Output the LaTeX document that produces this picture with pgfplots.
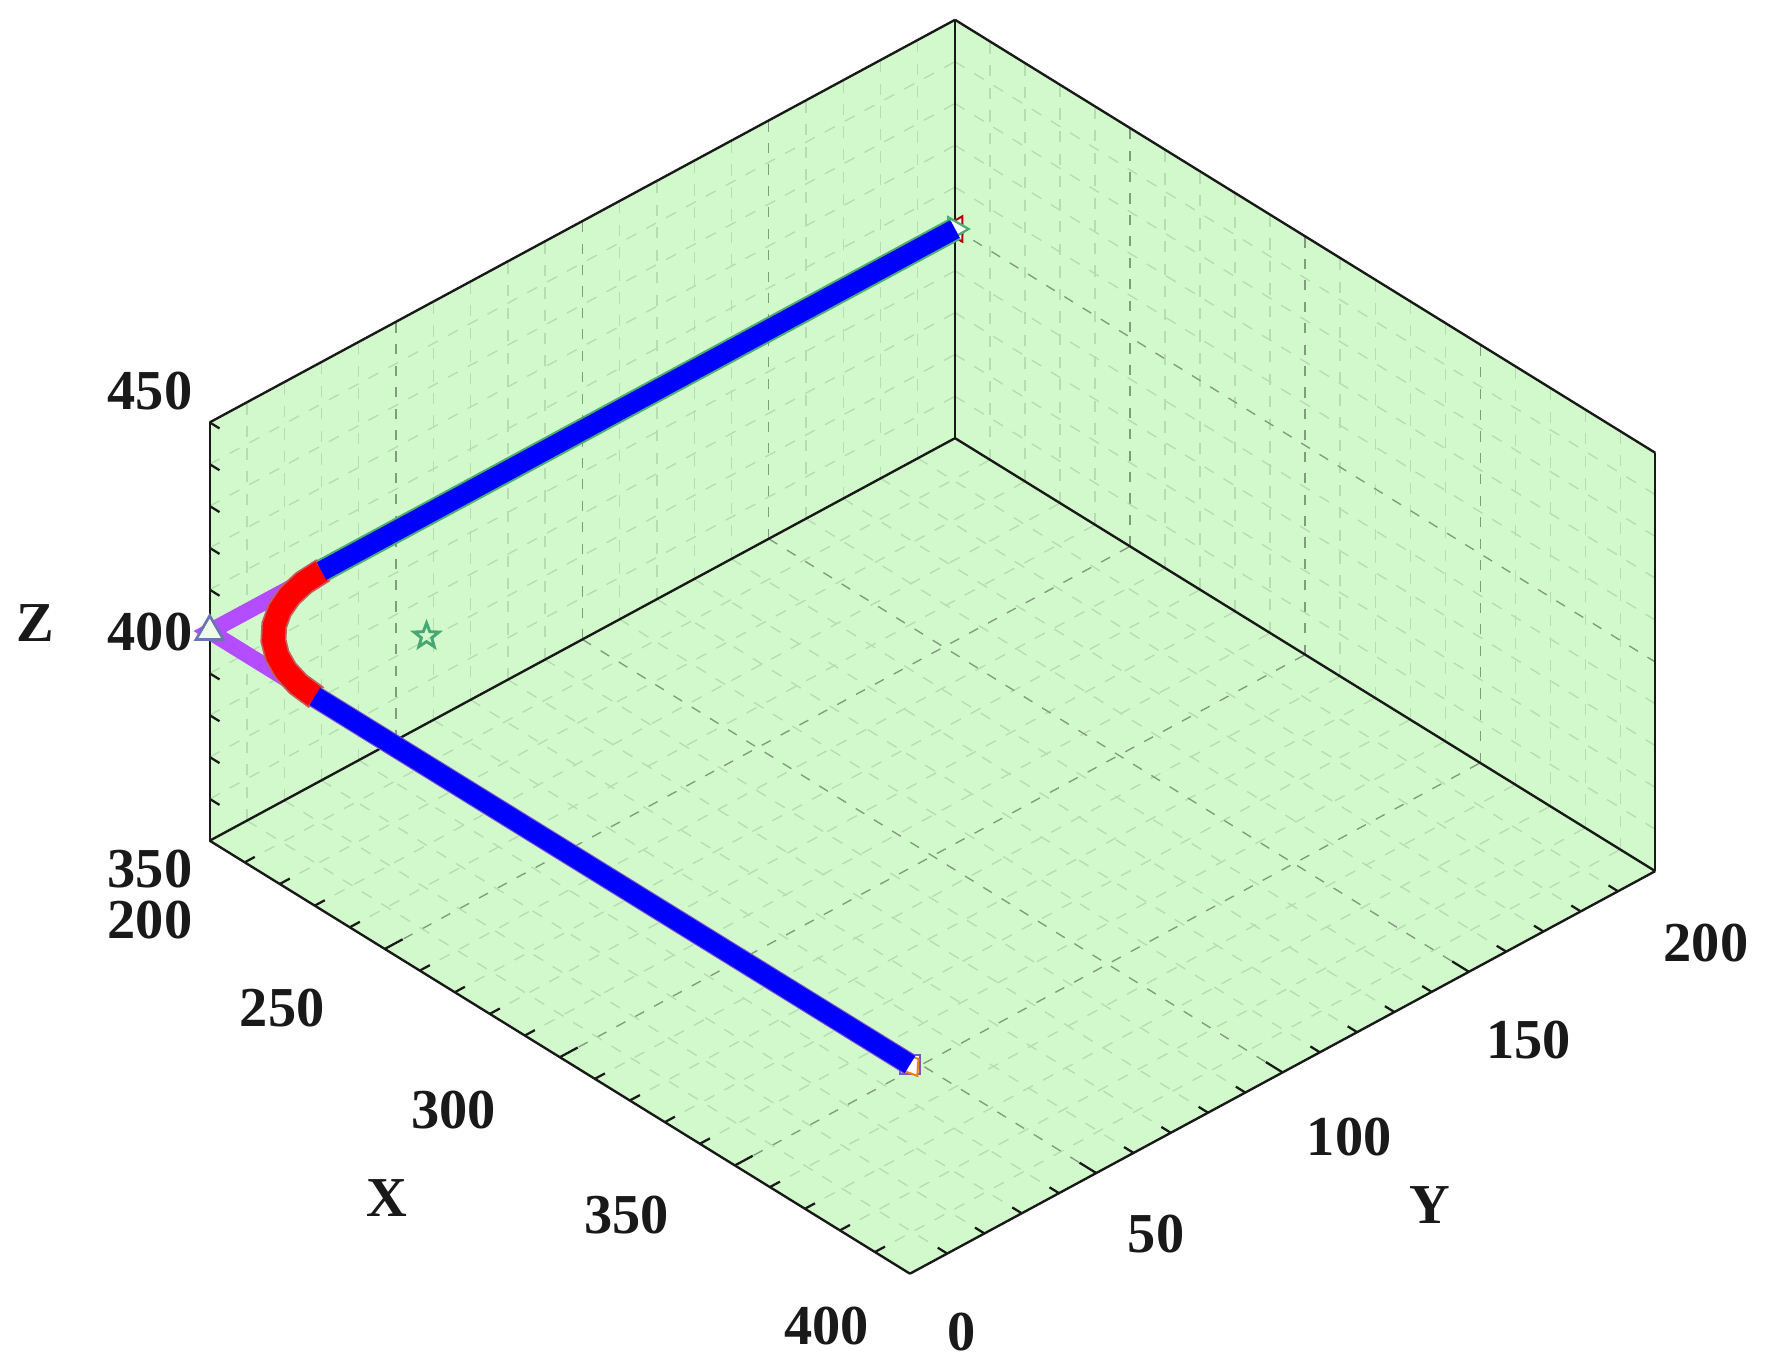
\documentclass[border=0pt]{standalone}
\usepackage{pgfplots}
\pgfplotsset{compat=1.18}
\usepackage{fontspec}
\setmainfont{Liberation Serif}
\definecolor{wallgreen}{HTML}{D2F9CB}
\definecolor{pathpurple}{HTML}{B44DFF}
\definecolor{halogreen}{HTML}{4CAF70}
\definecolor{halopurple}{HTML}{7A55C8}
\definecolor{halored}{HTML}{C06060}
\definecolor{stargreen}{HTML}{45A873}
\definecolor{triedge}{HTML}{6C74B4}
\newcommand\tl[3]{\raisebox{\dimexpr#2-8.4pt\relax}[0pt][0pt]{\makebox[0pt]{\hspace{\dimexpr2\dimexpr#1\relax\relax}#3}}}
\pgfdeclareplotmark{hollowstar}{%
  \pgfpathmoveto{\pgfqpointpolar{90}{\pgfplotmarksize}}%
  \pgfpathlineto{\pgfpointpolar{126}{0.42*\pgfplotmarksize}}%
  \pgfpathlineto{\pgfqpointpolar{162}{\pgfplotmarksize}}%
  \pgfpathlineto{\pgfpointpolar{198}{0.42*\pgfplotmarksize}}%
  \pgfpathlineto{\pgfqpointpolar{234}{\pgfplotmarksize}}%
  \pgfpathlineto{\pgfpointpolar{270}{0.42*\pgfplotmarksize}}%
  \pgfpathlineto{\pgfqpointpolar{306}{\pgfplotmarksize}}%
  \pgfpathlineto{\pgfpointpolar{342}{0.42*\pgfplotmarksize}}%
  \pgfpathlineto{\pgfqpointpolar{18}{\pgfplotmarksize}}%
  \pgfpathlineto{\pgfpointpolar{54}{0.42*\pgfplotmarksize}}%
  \pgfpathclose
  \pgfusepathqstroke
}
\begin{document}
\begin{tikzpicture}
\begin{axis}[
  set layers,
  clip=false,
  clip mode=individual,
  x={(1.5525pt,-0.96pt)},
  y={(1.6525pt,0.8925pt)},
  z={(0pt,1.855pt)},
  xmin=200,xmax=400,ymin=0,ymax=200,zmin=350,zmax=450,
  xtick={200,250,300,350,400},
  ytick={0,50,100,150,200},
  ztick={350,400,450},
  xticklabels={\tl{-26.5pt}{-35pt}{200},\tl{-45.5pt}{-26pt}{250},\tl{-47pt}{-23pt}{300},\tl{-48pt}{-22pt}{350},\tl{-37pt}{-23pt}{400}},
  yticklabels={\tl{23pt}{-25.5pt}{0},\tl{26.5pt}{-27pt}{50},\tl{29.5pt}{-28.5pt}{100},\tl{26.5pt}{-30pt}{150},\tl{22.5pt}{-31.5pt}{200}},
  zticklabels={\tl{-26.5pt}{-12.5pt}{350},\tl{-26.5pt}{0pt}{400},\tl{-26.5pt}{14pt}{450}},
  minor tick num=4,
  grid=both,
  major grid style={dash pattern=on 4.5pt off 5pt,line width=0.6pt,color=black!38!wallgreen},
  minor grid style={dash pattern=on 5pt off 5pt,line width=0.6pt,color=black!12!wallgreen},
  tickwidth=0pt,subtickwidth=0pt,
  tick style={draw=none},
  tick align=inside,
  tick pos=left,
  axis line style={line width=1.05pt,color=black!90},
  every tick label/.style={anchor=center,inner sep=0pt,outer sep=0pt,font=\fontsize{25}{30}\selectfont\bfseries,color=black!90},
  xticklabel shift=0pt,yticklabel shift=0pt,zticklabel shift=0pt,
  xlabel={X},ylabel={Y},zlabel={Z},
  xlabel style={at={(axis cs:311.6,-57.3,350)},anchor=center,rotate=0,sloped=false,font=\fontsize{25}{30}\selectfont\bfseries,color=black!90},
  ylabel style={at={(axis cs:452.3,90.4,350)},anchor=center,rotate=0,sloped=false,font=\fontsize{25}{30}\selectfont\bfseries,color=black!90},
  zlabel style={at={(axis cs:200,-46.9,424.5)},anchor=center,rotate=-90,sloped=false,font=\fontsize{25}{30}\selectfont\bfseries,color=black!90},
]
\begin{pgfonlayer}{axis background}
\fill[wallgreen] (axis cs:200,0,350) -- (axis cs:200,0,450) -- (axis cs:200,200,450) -- (axis cs:400,200,450) -- (axis cs:400,200,350) -- (axis cs:400,0,350) -- cycle;
\end{pgfonlayer}
\coordinate (P0) at (axis cs:200,0,350);
% tick marks on the three outer edges only
\pgfplotsinvokeforeach{250,300,350}{\draw[line width=1pt,black!90] (axis cs:#1,0,350) -- (axis cs:#1,4.8,350);}
\pgfplotsinvokeforeach{210,220,230,240,260,270,280,290,310,320,330,340,360,370,380,390}{\draw[line width=1pt,black!90] (axis cs:#1,0,350) -- (axis cs:#1,2.7,350);}
\pgfplotsinvokeforeach{50,100,150}{\draw[line width=1pt,black!90] (axis cs:400,#1,350) -- (axis cs:395.2,#1,350);}
\pgfplotsinvokeforeach{10,20,30,40,60,70,80,90,110,120,130,140,160,170,180,190}{\draw[line width=1pt,black!90] (axis cs:400,#1,350) -- (axis cs:397.3,#1,350);}
\pgfplotsinvokeforeach{360,370,380,390,400,410,420,430,440,450}{\draw[line width=1pt,black!90] (axis cs:200,0,#1) -- (axis cs:202.8,0,#1);}
% planned corner legs
\addplot3[pathpurple,line width=7.2pt,line join=miter] coordinates {(200,30,400) (200,0,400) (230,0,400)};
% markers at the ends
\addplot3[only marks,mark=triangle*,mark size=6.5pt,mark options={draw=red!70!black,line width=0.9pt,fill=white,rotate=90}] coordinates {(200,200,400)};
\addplot3[only marks,mark=triangle*,mark size=6pt,mark options={draw=halogreen,line width=1pt,fill=white,rotate=-90}] coordinates {(200,200,400)};
\addplot3[only marks,mark=square*,mark size=4.3pt,mark options={draw=halopurple,line width=0.9pt,fill=white,rotate=0}] coordinates {(400,0,400)};
\addplot3[only marks,mark=diamond*,mark size=6pt,mark options={draw=orange!70!brown,line width=0.9pt,fill=white,rotate=33}] coordinates {(400,0,400)};
% halos
\addplot3[halogreen,line width=10.6pt] coordinates {(200,200,400) (200,30,400)};
\addplot3[halopurple,line width=9.8pt] coordinates {(230,0,400) (400,0,400)};
\addplot3[halored,line width=11.5pt] coordinates {(200,30.5,400) (200.46,24.79,400) (201.81,19.74,400) (204.02,15,400) (207.02,10.72,400) (210.72,7.02,400) (215,4.02,400) (219.74,1.81,400) (224.79,0.46,400) (230.5,0,400)};
% main path
\addplot3[red,line width=10pt] coordinates {(200,30,400) (200.46,24.79,400) (201.81,19.74,400) (204.02,15,400) (207.02,10.72,400) (210.72,7.02,400) (215,4.02,400) (219.74,1.81,400) (224.79,0.46,400) (230,0,400)};
\addplot3[blue,line width=8.8pt] coordinates {(200,200,400) (200,30,400)};
\addplot3[blue,line width=8.8pt] coordinates {(230,0,400) (400,0,400)};
% start triangle and goal star
\addplot3[only marks,mark=triangle*,mark size=7pt,mark options={draw=triedge,line width=1.2pt,fill=wallgreen!40!white}] coordinates {(200,0,400)};
\addplot3[only marks,mark=hollowstar,mark size=5.8pt,mark options={draw=stargreen,line width=1.3pt}] coordinates {(230,30,400)};
\end{axis}
\path (P0) ++(-93pt,-232pt) rectangle ++(784pt,604.8pt);
\end{tikzpicture}
\end{document}
